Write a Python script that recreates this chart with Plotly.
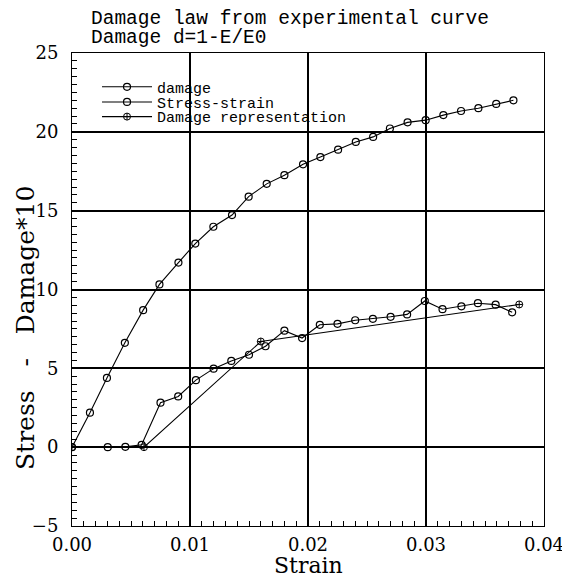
import plotly.graph_objects as go

# Stress-strain curve (upper)
ss_strain = [0.0, 0.00152, 0.00296, 0.00448, 0.00603, 0.00741, 0.00902, 0.01045, 0.01198,
             0.01356, 0.01497, 0.0165, 0.018, 0.01958, 0.02105, 0.02255, 0.02405, 0.02552,
             0.02694, 0.02844, 0.02997, 0.03147, 0.03297, 0.03444, 0.03595, 0.03741]
ss_stress = [0.0, 2.19, 4.39, 6.62, 8.69, 10.32, 11.71, 12.91, 13.98,
             14.72, 15.89, 16.70, 17.25, 17.94, 18.40, 18.87, 19.36, 19.68,
             20.21, 20.60, 20.74, 21.06, 21.32, 21.50, 21.77, 22.00]

# Damage*10 (lower, noisy)
dmg_strain = [0.00303, 0.00452, 0.0059, 0.0075, 0.009, 0.0105, 0.012, 0.0135, 0.015,
              0.0164, 0.018, 0.0195, 0.021, 0.0225, 0.024, 0.0255, 0.027, 0.0284,
              0.0299, 0.0314, 0.033, 0.0344, 0.0359, 0.0373]
dmg_value = [0.0, 0.02, 0.15, 2.82, 3.22, 4.25, 4.98, 5.47, 5.86,
             6.40, 7.39, 6.92, 7.76, 7.82, 8.05, 8.14, 8.27, 8.42,
             9.27, 8.75, 8.93, 9.13, 9.04, 8.55]

# Damage representation (bilinear law)
rep_strain = [0.0, 0.0061, 0.016, 0.0379]
rep_value = [0.0, 0.0, 6.7, 9.05]

x_ticks = [0.0, 0.01, 0.02, 0.03, 0.04]
x_labels = ["0.00", "0.01", "0.02", "0.03", "0.04"]
y_ticks = [-5, 0, 5, 10, 15, 20, 25]

SERIF = "DejaVu Serif"
MONO = "Liberation Mono"

fig = go.Figure()
fig.add_trace(go.Scatter(
    x=dmg_strain, y=dmg_value, name="damage", mode="lines+markers", legend="legend",
    line=dict(color="black", width=1.1),
    marker=dict(symbol="circle-open", size=7, color="black", line=dict(width=1.2))))
fig.add_trace(go.Scatter(
    x=ss_strain, y=ss_stress, name="Stress-strain", mode="lines+markers", legend="legend2",
    line=dict(color="black", width=1.1),
    marker=dict(symbol="circle-open", size=7, color="black", line=dict(width=1.2))))
fig.add_trace(go.Scatter(
    x=rep_strain, y=rep_value, name="Damage representation", mode="lines+markers",
    legend="legend3",
    line=dict(color="black", width=1.1),
    marker=dict(symbol="circle-cross-open", size=7, color="black", line=dict(width=1))))

leg_common = dict(x=0.053, xanchor="left", yanchor="middle",
                  bgcolor="rgba(0,0,0,0)", font=dict(size=15, family=MONO),
                  itemwidth=50, borderwidth=0)

fig.update_layout(
    width=562, height=578,
    margin=dict(l=72, r=18, t=53, b=52),
    paper_bgcolor="white", plot_bgcolor="white",
    font=dict(family=SERIF, color="black", size=16),
    showlegend=True,
    legend=dict(y=0.928, **leg_common),
    legend2=dict(y=0.896, **leg_common),
    legend3=dict(y=0.865, **leg_common),
    annotations=[
        dict(text="Damage law from experimental curve", xref="paper", yref="paper",
             x=0.036, y=1.0, xanchor="left", yanchor="middle", yshift=34,
             showarrow=False, font=dict(size=19.5, family=MONO)),
        dict(text="Damage d=1-E/E0", xref="paper", yref="paper",
             x=0.036, y=1.0, xanchor="left", yanchor="middle", yshift=15,
             showarrow=False, font=dict(size=19.5, family=MONO)),
        dict(text="Stress   -   Damage*10", xref="paper", yref="paper",
             x=-0.098, y=0.418, xanchor="center", yanchor="middle", textangle=-90,
             showarrow=False, font=dict(size=25, family=SERIF)),
        dict(text="Strain", xref="paper", yref="paper",
             x=0.5, y=-0.0825, xanchor="center", yanchor="middle",
             showarrow=False, font=dict(size=22, family=SERIF)),
    ],
)

fig.update_xaxes(
    range=[0, 0.04], tickvals=x_ticks, ticktext=x_labels,
    showgrid=True, gridcolor="black", gridwidth=1.6,
    showline=True, linecolor="black", linewidth=1, mirror=True,
    ticks="inside", ticklen=6, tickcolor="black",
    minor=dict(dtick=0.001, ticks="inside", ticklen=5, tickcolor="black", showgrid=False),
    zeroline=False, ticklabeloverflow="allow", ticklabelstandoff=2, automargin=False,
    tickfont=dict(size=18, family=SERIF),
)
fig.update_yaxes(
    range=[-5, 25], tickvals=y_ticks,
    showgrid=True, gridcolor="black", gridwidth=1.6,
    showline=True, linecolor="black", linewidth=1, mirror=True,
    ticks="inside", ticklen=6, tickcolor="black",
    minor=dict(dtick=0.5, ticks="inside", ticklen=5, tickcolor="black", showgrid=False),
    zeroline=True, zerolinecolor="black", zerolinewidth=1.8,
    ticklabelstandoff=9, automargin=False,
    tickfont=dict(size=18, family=SERIF),
)

fig.write_html("out.html")
